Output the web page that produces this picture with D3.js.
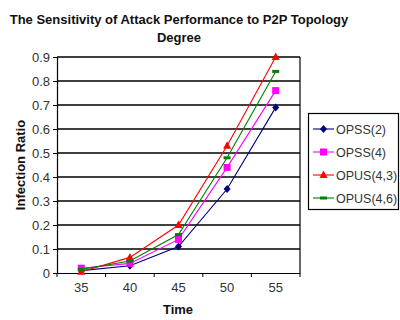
<!DOCTYPE html>
<html>
<head>
<meta charset="utf-8">
<script src="https://cdn.jsdelivr.net/npm/d3@7"></script>
<style>
  html, body { margin: 0; padding: 0; background: #fff; }
  svg { display: block; font-family: "Liberation Sans", Arial, sans-serif; }
</style>
</head>
<body>
<svg id="chart" width="400" height="320"></svg>
<script>
// Infection ratio over time for four topology settings
const times = ["35", "40", "45", "50", "55"];
const seriesNames = ["OPSS(2)", "OPSS(4)", "OPUS(4,3)", "OPUS(4,6)"];
const opss2  = [0.01, 0.03, 0.11, 0.35, 0.69];
const opss4  = [0.02, 0.04, 0.14, 0.44, 0.76];
const opus43 = [0.005, 0.065, 0.20, 0.53, 0.90];
const opus46 = [0.015, 0.05, 0.16, 0.48, 0.84];
const yTicks = [0, 0.1, 0.2, 0.3, 0.4, 0.5, 0.6, 0.7, 0.8, 0.9];
const yTickLabels = ["0", "0.1", "0.2", "0.3", "0.4", "0.5", "0.6", "0.7", "0.8", "0.9"];

const seriesValues = [opss2, opss4, opus43, opus46];
const colors = ["#000080", "#ff00ff", "#ff0000", "#008000"];
const shapes = ["diamond", "square", "triangle", "dash"];

const svg = d3.select("#chart");
const plot = { left: 57, right: 300, top: 57, bottom: 273 };

const x = d3.scaleBand().domain(times).range([plot.left, plot.right]);
const y = d3.scaleLinear().domain([0, 0.9]).range([plot.bottom, plot.top]);

// Title
const title = svg.append("text")
  .attr("x", 179).attr("text-anchor", "middle")
  .attr("font-weight", "bold").attr("font-size", 13).attr("fill", "#111");
title.append("tspan").attr("x", 179).attr("y", 24).text("The Sensitivity of Attack Performance to P2P Topology");
title.append("tspan").attr("x", 179).attr("y", 42).text("Degree");

// Horizontal gridlines
svg.append("g").selectAll("line").data(yTicks.slice(1)).join("line")
  .attr("x1", plot.left).attr("x2", plot.right)
  .attr("y1", d => y(d)).attr("y2", d => y(d))
  .attr("stroke", "#000").attr("stroke-width", 1.4);

// Right border
svg.append("line")
  .attr("x1", plot.right).attr("x2", plot.right)
  .attr("y1", plot.top).attr("y2", plot.bottom)
  .attr("stroke", "#000").attr("stroke-width", 1.2);

// Y axis
const yAxis = d3.axisLeft(y).tickValues(yTicks)
  .tickFormat((d, i) => yTickLabels[i]).tickSize(4).tickPadding(3);
const gy = svg.append("g").attr("transform", `translate(${plot.left},0)`).call(yAxis);
gy.select(".domain").attr("stroke", "#000").attr("stroke-width", 1.2);
gy.selectAll(".tick line").attr("stroke", "#000");
gy.selectAll("text").attr("font-size", 13).attr("fill", "#333")
  .attr("font-family", "Liberation Sans, Arial, sans-serif");

// X axis with ticks at category boundaries
const xAxis = d3.axisBottom(x).tickSize(0).tickPadding(10);
const gx = svg.append("g").attr("transform", `translate(0,${plot.bottom})`).call(xAxis);
gx.select(".domain").attr("stroke", "#000").attr("stroke-width", 1.2);
gx.selectAll("text").attr("font-size", 13).attr("fill", "#333")
  .attr("font-family", "Liberation Sans, Arial, sans-serif");
const boundaries = times.map(t => x(t)).concat([x(times[times.length - 1]) + x.bandwidth()]);
gx.append("g").selectAll("line").data(boundaries).join("line")
  .attr("x1", d => d).attr("x2", d => d).attr("y1", 0).attr("y2", 4)
  .attr("stroke", "#000");

// Axis titles
svg.append("text").attr("x", 178).attr("y", 314)
  .attr("text-anchor", "middle").attr("font-weight", "bold").attr("font-size", 13)
  .attr("fill", "#111").text("Time");
svg.append("text").attr("transform", "translate(25,165) rotate(-90)")
  .attr("text-anchor", "middle").attr("font-weight", "bold").attr("font-size", 13)
  .attr("fill", "#111").text("Infection Ratio");

function marker(g, shape, color, cx, cy) {
  if (shape === "diamond") {
    g.append("path").attr("d", `M${cx},${cy - 4}L${cx + 3.5},${cy}L${cx},${cy + 4}L${cx - 3.5},${cy}Z`).attr("fill", color);
  } else if (shape === "square") {
    g.append("rect").attr("x", cx - 3.5).attr("y", cy - 3.5).attr("width", 7).attr("height", 7).attr("fill", color);
  } else if (shape === "triangle") {
    g.append("path").attr("d", `M${cx},${cy - 4.5}L${cx + 4},${cy + 3}L${cx - 4},${cy + 3}Z`).attr("fill", color);
  } else {
    g.append("rect").attr("x", cx - 3.5).attr("y", cy - 1.5).attr("width", 7).attr("height", 3).attr("fill", color);
  }
}

// Series lines and markers
const line = d3.line().x((d, i) => x(times[i]) + x.bandwidth() / 2).y(d => y(d));
seriesValues.forEach((vals, s) => {
  const g = svg.append("g");
  g.append("path").datum(vals).attr("d", line)
    .attr("fill", "none").attr("stroke", colors[s]).attr("stroke-width", 1.1);
  vals.forEach((v, i) => marker(g, shapes[s], colors[s], x(times[i]) + x.bandwidth() / 2, y(v)));
});

// Legend
const legend = svg.append("g");
legend.append("rect").attr("x", 308.5).attr("y", 113.5).attr("width", 90).attr("height", 96)
  .attr("fill", "#fff").attr("stroke", "#000").attr("stroke-width", 1.2);
seriesNames.forEach((name, s) => {
  const ly = 129 + s * 23;
  legend.append("line").attr("x1", 313).attr("x2", 334).attr("y1", ly).attr("y2", ly)
    .attr("stroke", colors[s]).attr("stroke-width", 1.1);
  marker(legend, shapes[s], colors[s], 323.5, ly);
  legend.append("text").attr("x", 336).attr("y", ly + 4.5)
    .attr("font-size", 12.5).attr("fill", "#333").text(name);
});
</script>
</body>
</html>
